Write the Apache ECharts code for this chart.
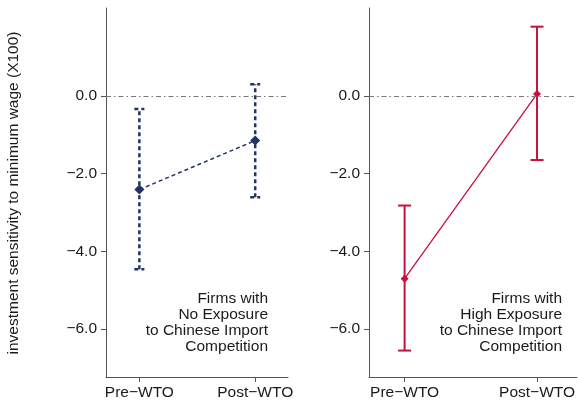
<!DOCTYPE html>
<html>
<head>
<meta charset="utf-8">
<script src="https://cdn.jsdelivr.net/npm/echarts@6/dist/echarts.min.js"></script>
<style>
  html, body { margin: 0; padding: 0; background: #fff; }
  #chart { width: 578px; height: 401px; }
</style>
</head>
<body>
<div id="chart"></div>
<script>
// Periods on the horizontal axis and value ticks on the vertical axis
const periods = ['Pre\u2212WTO', 'Post\u2212WTO'];
const yTicks = [0, -2, -4, -6];

// Firms with no exposure: point estimates and 95% interval bounds
const noExpEst  = [-2.41, -1.15];
const noExpLow  = [-4.46, -2.61];
const noExpHigh = [-0.34, 0.30];

// Firms with high exposure: point estimates and 95% interval bounds
const highExpEst  = [-4.70, 0.05];
const highExpLow  = [-6.55, -1.65];
const highExpHigh = [-2.82, 1.78];

const panelNotes = [
  'Firms with\nNo Exposure\nto Chinese Import\nCompetition',
  'Firms with\nHigh Exposure\nto Chinese Import\nCompetition'
];

const FONT = 'Liberation Sans, Arial, Helvetica, sans-serif';
const TEXT = '#1a1a1a';
const AXIS = '#555';
const NAVY = '#1f3461';
const RED = '#c8103c';

function fmtY(v) {
  return (v < 0 ? '\u2212' : '') + Math.abs(v).toFixed(1);
}

function pts(est) { return est.map((v, i) => [i, v]); }
function bars(lo, hi) { return lo.map((v, i) => [i, v, hi[i]]); }

function errorBars(color, dash, capHalf, width) {
  return function (params, api) {
    const x = api.value(0);
    const lo = api.coord([x, api.value(1)]);
    const hi = api.coord([x, api.value(2)]);
    const style = { stroke: color, lineWidth: width, lineDash: dash, fill: null };
    return {
      type: 'group',
      children: [
        { type: 'line', shape: { x1: lo[0], y1: lo[1], x2: hi[0], y2: hi[1] }, style: style },
        { type: 'line', shape: { x1: hi[0] - capHalf, y1: hi[1], x2: hi[0] + capHalf, y2: hi[1] }, style: style },
        { type: 'line', shape: { x1: lo[0] - capHalf, y1: lo[1], x2: lo[0] + capHalf, y2: lo[1] }, style: style }
      ]
    };
  };
}

function xAxisFor(idx, min, max) {
  return {
    type: 'value', gridIndex: idx, min: min, max: max,
    axisLine: { show: true, onZero: false, lineStyle: { color: AXIS, width: 1 } },
    axisTick: { show: true, customValues: [0, 1], length: 5, lineStyle: { color: AXIS } },
    axisLabel: {
      customValues: [0, 1], margin: 8, color: TEXT, fontSize: 15.5, fontFamily: FONT,
      formatter: v => periods[Math.round(v)]
    },
    splitLine: { show: false }
  };
}

function yAxisFor(idx) {
  return {
    type: 'value', gridIndex: idx, min: -7.23, max: 2.26,
    axisLine: { show: true, onZero: false, lineStyle: { color: AXIS, width: 1 } },
    axisTick: { show: true, customValues: yTicks, length: 5, lineStyle: { color: AXIS } },
    axisLabel: {
      customValues: yTicks, margin: 9, color: TEXT, fontSize: 15.5, fontFamily: FONT,
      formatter: fmtY
    },
    splitLine: { show: false }
  };
}

const zeroLine = {
  silent: true, symbol: 'none', label: { show: false },
  lineStyle: { color: '#777', width: 1, type: [5, 3, 1.5, 3] },
  data: [{ yAxis: 0 }]
};

const chart = echarts.init(document.getElementById('chart'), null, { renderer: 'canvas' });

chart.setOption({
  animation: false,
  backgroundColor: '#fff',
  grid: [
    { left: 106, right: 290, top: 8, bottom: 23 },
    { left: 369, right: 1, top: 8, bottom: 23 }
  ],
  xAxis: [xAxisFor(0, -0.288, 1.283), xAxisFor(1, -0.269, 1.30)],
  yAxis: [yAxisFor(0), yAxisFor(1)],
  graphic: [
    {
      type: 'text', x: 14, y: 193, rotation: Math.PI / 2,
      style: {
        text: 'investment sensitivity to minimum wage (X100)',
        font: '15.5px ' + FONT, fill: TEXT, textAlign: 'center', textVerticalAlign: 'middle'
      }
    },
    {
      type: 'text', x: 268, y: 291,
      style: {
        text: panelNotes[0], font: '15.5px ' + FONT, lineHeight: 16,
        fill: TEXT, textAlign: 'right', textVerticalAlign: 'top'
      }
    },
    {
      type: 'text', x: 562, y: 291,
      style: {
        text: panelNotes[1], font: '15.5px ' + FONT, lineHeight: 16,
        fill: TEXT, textAlign: 'right', textVerticalAlign: 'top'
      }
    }
  ],
  series: [
    {
      type: 'custom', xAxisIndex: 0, yAxisIndex: 0, z: 3,
      renderItem: errorBars(NAVY, [4, 3], 5, 2.5),
      data: bars(noExpLow, noExpHigh),
      markLine: zeroLine
    },
    {
      type: 'line', xAxisIndex: 0, yAxisIndex: 0, z: 4,
      data: pts(noExpEst),
      symbol: 'diamond', symbolSize: 10,
      itemStyle: { color: NAVY },
      lineStyle: { color: NAVY, width: 1.5, type: [4, 3] }
    },
    {
      type: 'custom', xAxisIndex: 1, yAxisIndex: 1, z: 3,
      renderItem: errorBars(RED, null, 6.5, 2),
      data: bars(highExpLow, highExpHigh),
      markLine: zeroLine
    },
    {
      type: 'line', xAxisIndex: 1, yAxisIndex: 1, z: 4,
      data: pts(highExpEst),
      symbol: 'diamond', symbolSize: 8,
      itemStyle: { color: RED },
      lineStyle: { color: RED, width: 1.3 }
    }
  ]
});
</script>
</body>
</html>
